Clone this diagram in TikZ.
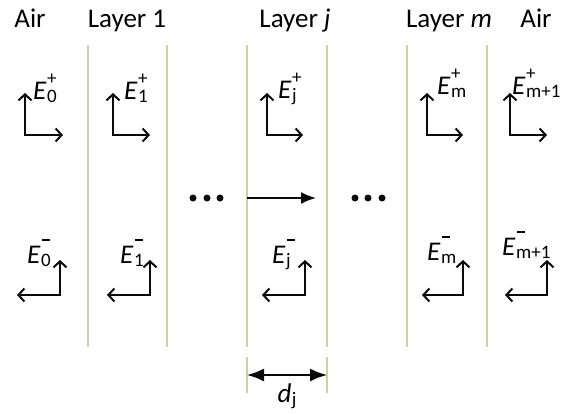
\documentclass[tikz,border=0pt]{standalone}
\usepackage{fontspec}
\setmainfont{Carlito}
\usepackage{tikz}
\usetikzlibrary{arrows.meta, positioning}
\definecolor{mydark}{RGB}{10,10,10}
\definecolor{mygreen}{RGB}{198,210,170}
\newcommand{\subsz}{\fontsize{19}{19}\selectfont}
\newcommand{\fieldE}[3]{\textit{E}\kern0.5pt\rlap{\raisebox{#3}{\subsz#2}}{\subsz\raisebox{-3pt}{#1}}}
\newcommand{\minbar}{\kern1pt\rule{8pt}{1.6pt}}
\tikzset{
  boundary/.style={line width=2pt, color=mygreen},
  vecarrow/.style={{Straight Barb[length=6pt,width=13pt]}-{Straight Barb[length=6pt,width=13pt]},
    line width=2pt, color=mydark},
  proparrow/.style={-{Latex[length=15pt,width=12pt]}, line width=1.8pt, color=mydark},
  dimarrow/.style={{Latex[length=17pt,width=13pt]}-{Latex[length=17pt,width=13pt]}, line width=1.8pt, color=mydark},
  title/.style={anchor=base, inner sep=0pt, font=\fontsize{27}{32}\selectfont},
  fieldlbl/.style={anchor=base west, inner sep=0pt, font=\fontsize{27}{31}\selectfont}
}

\begin{document}
\begin{tikzpicture}[x=1pt, y=-1pt]
  \useasboundingbox (0,0) rectangle (564,413);

  % Interfaces between the layers
  \foreach \x/\name in {88/b0, 167/b1, 247/b2, 327/b3, 407/b4, 487/b5} {
    \draw[boundary] (\x,45) -- (\x,347);
    \coordinate (\name) at (\x,198);
  }
  \draw[boundary] (247,357) -- (247,393);
  \draw[boundary] (327,357) -- (327,393);

  % Titles
  \node[title] (tair0) at (30,27) {Air};
  \node[title] (tlay1) at (127,27) {Layer 1};
  \node[title] (tlayj) at (295,27) {Layer \textit{j}};
  \node[title] (tlaym) at (449,27) {Layer \textit{m}};
  \node[title] (tair1) at (536,27) {Air};

  % Forward waves
  \draw[vecarrow] (25,93) |- (63,135);
  \draw[vecarrow] (113,93) |- (150,135);
  \draw[vecarrow] (267,93) |- (303,135);
  \draw[vecarrow] (427,93) |- (463,135);
  \draw[vecarrow] (510,93) |- (547,135);
  \node[fieldlbl] (e0p) at (33,99) {\fieldE{0}{+}{15pt}};
  \node[fieldlbl] (e1p) at (124,99) {\fieldE{1}{+}{15pt}};
  \node[fieldlbl] (ejp) at (278,98) {\fieldE{j}{+}{15pt}};
  \node[fieldlbl] (emp) at (437,94) {\fieldE{m}{+}{15pt}};
  \node[fieldlbl] (em1p) at (512,94) {\fieldE{m+1}{+}{15pt}};

  % Backward waves
  \draw[vecarrow] (17,295) -| (60,260);
  \draw[vecarrow] (107,295) -| (150,260);
  \draw[vecarrow] (262,295) -| (305,260);
  \draw[vecarrow] (422,295) -| (463,260);
  \draw[vecarrow] (505,295) -| (547,260);
  \node[fieldlbl] (e0m) at (27,263) {\fieldE{0}{\minbar}{22pt}};
  \node[fieldlbl] (e1m) at (120,263) {\fieldE{1}{\minbar}{22pt}};
  \node[fieldlbl] (ejm) at (272,263) {\fieldE{j}{\minbar}{22pt}};
  \node[fieldlbl] (emm) at (427,260) {\fieldE{m}{\minbar}{22pt}};
  \node[fieldlbl] (em1m) at (502,255) {\fieldE{m+1}{\minbar}{22pt}};

  % Omitted layers and propagation
  \foreach \x in {193,207,220,355,368,382}
    \fill[mydark] (\x,198) circle (3.5pt);
  \coordinate (pend) at (316,198);
  \draw[proparrow] (b2) -- (pend);

  % Thickness of layer j
  \coordinate (dl) at (247,375);
  \coordinate (dr) at (327,375);
  \draw[dimarrow] (dl) -- (dr);
  \node[fieldlbl, anchor=base] (dj) at (287,402) {\textit{d}\kern0.5pt{\subsz\raisebox{-3pt}{j}}};
\end{tikzpicture}
\end{document}
